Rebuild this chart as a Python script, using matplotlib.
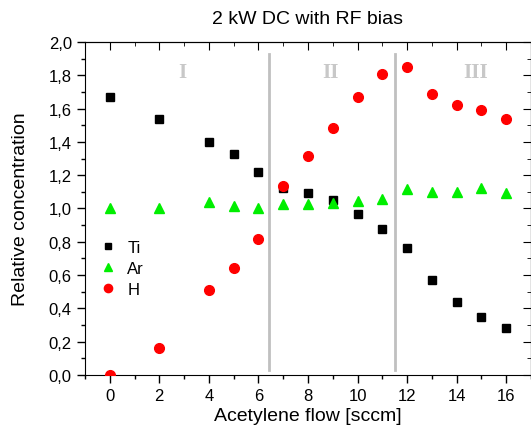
import matplotlib
matplotlib.use("Agg")
import matplotlib.pyplot as plt
from matplotlib.ticker import MultipleLocator, FuncFormatter

flow = [0, 2, 4, 5, 6, 7, 8, 9, 10, 11, 12, 13, 14, 15, 16]
ti = [1.67, 1.54, 1.40, 1.325, 1.22, 1.12, 1.09, 1.05, 0.965, 0.875, 0.76, 0.57, 0.435, 0.35, 0.28]
ar = [1.0, 1.0, 1.04, 1.015, 1.005, 1.025, 1.025, 1.03, 1.045, 1.055, 1.115, 1.10, 1.10, 1.125, 1.09]
h = [0.0, 0.16, 0.51, 0.64, 0.815, 1.135, 1.315, 1.485, 1.67, 1.81, 1.85, 1.69, 1.62, 1.59, 1.535]
regions = ["I", "II", "III"]
region_x = [2.93, 8.9, 14.75]
borders = [6.43, 11.5]

plt.rcParams["font.family"] = ["Liberation Sans", "DejaVu Sans"]

fig = plt.figure(figsize=(5.31, 4.35), dpi=100)
ax = fig.add_axes([0.16, 0.136, 0.84, 0.765])

for b in borders:
    ax.plot([b, b], [0.03, 1.93], color="#c0c0c0", lw=2, zorder=1)

for lab, x in zip(regions, region_x):
    ax.text(x, 1.82, lab, ha="center", va="center", color="#c8c8c8",
            fontsize=15, fontweight="bold", family="Liberation Serif")

ax.plot(flow, ti, "s", color="black", ms=5.5, ls="none", label="Ti", zorder=3)
ax.plot(flow, ar, "^", color="#00ee00", ms=7, ls="none", label="Ar", zorder=3)
ax.plot(flow, h, "o", color="#ff0000", ms=7, ls="none", label="H", zorder=4)

ax.set_xlim(-1, 17)
ax.set_ylim(0, 2.0)
ax.xaxis.set_major_locator(MultipleLocator(2))
ax.xaxis.set_minor_locator(MultipleLocator(1))
ax.yaxis.set_major_locator(MultipleLocator(0.2))
ax.yaxis.set_minor_locator(MultipleLocator(0.1))
ax.yaxis.set_major_formatter(FuncFormatter(lambda v, p: ("%.1f" % v).replace(".", ",")))

ax.tick_params(which="both", direction="out", top=False, right=False, labelsize=12)
ax.tick_params(which="major", length=6, width=1)
ax.tick_params(which="minor", length=3, width=1)
sec_x = ax.secondary_xaxis("top")
sec_x.xaxis.set_major_locator(MultipleLocator(2))
sec_x.xaxis.set_minor_locator(MultipleLocator(1))
sec_x.tick_params(which="both", direction="in", labeltop=False)
sec_x.tick_params(which="major", length=6)
sec_x.tick_params(which="minor", length=3)
sec_y = ax.secondary_yaxis("right")
sec_y.yaxis.set_major_locator(MultipleLocator(0.2))
sec_y.yaxis.set_minor_locator(MultipleLocator(0.1))
sec_y.tick_params(which="both", direction="in", labelright=False)
sec_y.tick_params(which="major", length=6)
sec_y.tick_params(which="minor", length=3)

ax.set_xlabel("Acetylene flow [sccm]", fontsize=14, labelpad=3)
ax.set_ylabel("Relative concentration", fontsize=14, labelpad=14)
ax.set_title("2 kW DC with RF bias", fontsize=14, pad=14)

ax.legend(loc="upper left", bbox_to_anchor=(-0.01, 0.45), frameon=False,
          fontsize=12, handletextpad=0.4, labelspacing=0.35, markerscale=0.85,
          handlelength=1.5)

fig.savefig("out.png", dpi=100)
